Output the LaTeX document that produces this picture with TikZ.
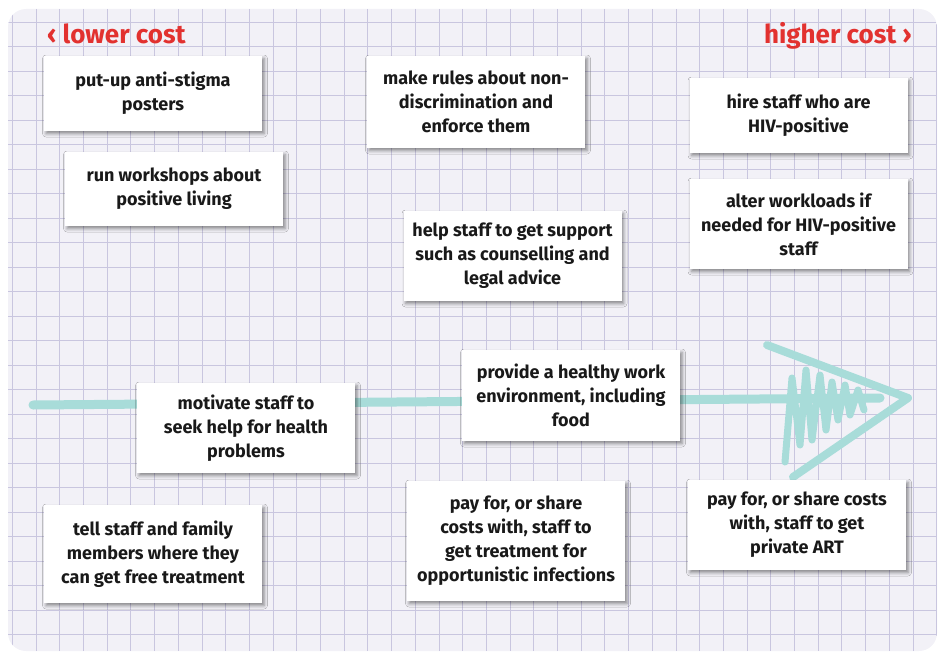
\documentclass[tikz,border=0pt]{standalone}
\usepackage{fontspec}
\setmainfont{Fira Sans}
\usepackage{xcolor}
\usetikzlibrary{positioning,shadows,shadows.blur}
\definecolor{paper}{HTML}{F2F1F7}
\definecolor{gridcol}{HTML}{C9C6DF}
\definecolor{costred}{HTML}{E2312F}
\definecolor{arrowcol}{HTML}{A8DCD9}
\tikzset{%
	card/.style      = {fill=white, minimum width=218pt, align=center, inner sep=4pt, text=black!90,
	                    font=\fontsize{18}{24}\selectfont\bfseries,
	                    blur shadow={shadow xshift=2pt, shadow yshift=-2.5pt, shadow blur radius=3.5pt, shadow opacity=45}},
	costlabel/.style = {text=costred, inner sep=0pt, font=\fontsize{26}{28}\selectfont\bfseries},
	gridline/.style  = {draw=gridcol, line width=0.8pt},
	sketch/.style    = {draw=arrowcol, line cap=round, line join=round},
}
\begin{document}
\begin{tikzpicture}[x=1pt,y=-1pt]
	\useasboundingbox (0,0) rectangle (941,658);
	\fill[paper, rounded corners=18pt] (8,9) rectangle (937,651); % the squared paper
	\begin{scope}
		\clip[rounded corners=18pt] (8,9) rectangle (937,651);
		\foreach \gx in {0,...,39} \draw[gridline] ({12.3+23.7*\gx},9) -- ({12.3+23.7*\gx},651);
		\foreach \gy in {0,...,26} \draw[gridline] (8,{22+24.5*\gy}) -- (937,{22+24.5*\gy});
	\end{scope}
	% hand drawn arrow
	\draw[sketch, line width=9pt] (33,405) -- (880,398);
	\draw[sketch, line width=8pt] (767,345) -- (908,398) -- (793,477);
	\draw[sketch, line width=7pt] (785,462) -- (792,378) -- (800,445) -- (806,370) -- (812,440) -- (820,375) -- (826,430) -- (832,382) -- (838,420) -- (845,385) -- (850,415) -- (858,390) -- (864,410);
	% cost scale
	\node[costlabel, anchor=base west] (lowcost) at (47,44) {‹ lower cost};
	\node[costlabel, anchor=base east] (highcost) at (912,44) {higher cost ›};
	% actions
	\node[card, minimum height=75pt] (posters) at (153,93.5) {put-up anti-stigma\\posters};
	\node[card, minimum height=74pt] (workshops) at (174,189) {run workshops about\\positive living};
	\node[card, minimum height=92pt] (rules) at (476,102) {make rules about non-\\discrimination and\\enforce them};
	\node[card, minimum height=75pt] (hire) at (798.5,115.5) {hire staff who are\\HIV-positive};
	\node[card, minimum height=90pt] (workloads) at (798.5,224) {alter workloads if\\needed for HIV-positive\\staff};
	\node[card, minimum height=90pt] (support) at (512.5,256) {help staff to get support\\such as counselling and\\legal advice};
	\node[card, minimum height=91pt] (healthy) at (571,395.5) {provide a healthy work\\environment, including\\food};
	\node[card, minimum height=90pt] (motivate) at (246,428) {motivate staff to\\seek help for health\\problems};
	\node[card, minimum height=98pt] (tellstaff) at (153,554) {tell staff and family\\members where they\\can get free treatment};
	\node[card, minimum height=120pt] (payoi) at (516,541) {pay for, or share\\costs with, staff to\\get treatment for\\opportunistic infections};
	\node[card, minimum height=90pt] (payart) at (797,525) {pay for, or share costs\\with, staff to get\\private ART};
\end{tikzpicture}
\end{document}
